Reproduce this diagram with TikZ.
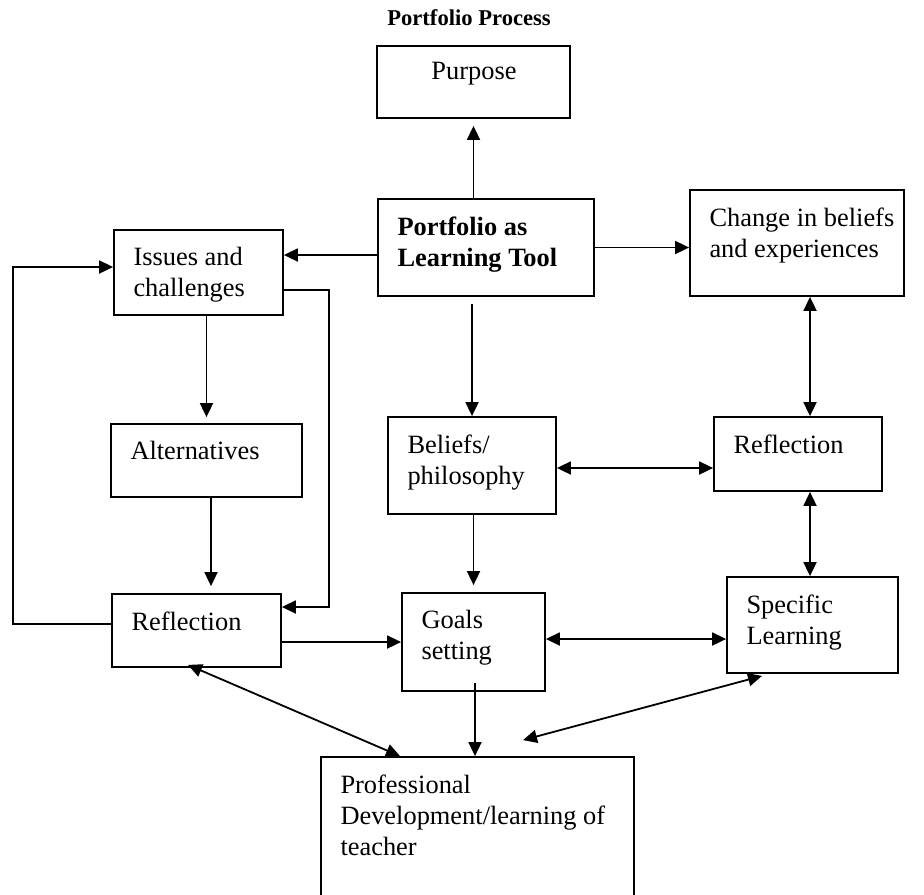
\documentclass[tikz,border=0pt]{standalone}
\usepackage{fontspec}
\setmainfont{Liberation Serif}
\usetikzlibrary{calc,arrows.meta}
\tikzset{
	box/.style={draw, line width=0.9pt, inner sep=0pt},
	txt/.style={anchor=north west, inner sep=0pt, align=left, font=\fontsize{13.2}{15.5}\selectfont},
	arr/.style={line width=0.9pt, -{Triangle[length=7pt,width=6.5pt]}},
	darr/.style={line width=0.9pt, {Triangle[length=7pt,width=6.5pt]}-{Triangle[length=7pt,width=6.5pt]}}
}
\def\boxlabel(#1)#2{\node[txt] (#1-t) at ($(#1.north west)+(20,18)$) {#2};}

\begin{document}
\begin{tikzpicture}[x=0.5pt, y=-0.5pt]
		\useasboundingbox (0,0) rectangle (924,894);
		\clip (0,0) rectangle (924,894);
		%%%%% BOXES %%%%%
		\node[font=\fontsize{11.3}{13}\selectfont\bfseries] (title) at (469,18) {Portfolio Process};
		
		\node[box, minimum width=96.5pt, minimum height=36pt] (purpose) at (473.5,82) {};
		\node[box, minimum width=108pt, minimum height=48.5pt] (plt) at (486,247.5) {};
		\node[box, minimum width=107pt, minimum height=53pt] (change) at (797,243) {};
		\node[box, minimum width=84.5pt, minimum height=42.5pt] (issues) at (198.5,272.5) {};
		\node[box, minimum width=95.5pt, minimum height=36.5pt] (alt) at (206.5,460.5) {};
		\node[box, minimum width=84pt, minimum height=48.5pt] (beliefs) at (472,465.5) {};
		\node[box, minimum width=84pt, minimum height=37pt] (refR) at (798,454) {};
		\node[box, minimum width=84.5pt, minimum height=36.5pt] (refL) at (196.5,630.5) {};
		\node[box, minimum width=71.5pt, minimum height=49pt] (goals) at (473.5,642) {};
		\node[box, minimum width=85.5pt, minimum height=48pt] (spec) at (812.5,625) {};
		\node[box, minimum width=156.5pt, minimum height=100pt] (prof) at (477.5,857) {};
		
		%%%%% TEXTS %%%%%
		\node[txt, anchor=north] (purpose-t) at ($(purpose.north)+(0.5,17)$) {Purpose};
		\node[txt, font=\fontsize{13.2}{15.5}\selectfont\bfseries] (plt-t) at ($(plt.north west)+(20,18)$) {Portfolio as\\Learning Tool};
		\boxlabel(change){Change in beliefs\\and experiences}
		\boxlabel(issues){Issues and\\challenges}
		\boxlabel(alt){Alternatives}
		\boxlabel(beliefs){Beliefs/\\philosophy}
		\boxlabel(refR){Reflection}
		\boxlabel(refL){Reflection}
		\boxlabel(goals){Goals\\setting}
		\boxlabel(spec){Specific\\Learning}
		\boxlabel(prof){Professional\\Development/learning of\\teacher}
		
		%%%%% ARROWS %%%%%
		\draw[arr, shorten >=3.5pt] (plt.north -| purpose.south) -- (purpose.south);
		\draw[arr] (plt.east) -- (plt.east -| change.west);
		\draw[arr] ($(plt.west)+(0,7.5)$) -- ($(plt.west -| issues.east)+(0,7.5)$);
		\draw[arr, shorten <=3.5pt] (plt.south -| beliefs.north) -- (beliefs.north);
		\draw[arr, shorten >=3pt] (alt.north |- issues.south) -- (alt.north);
		\draw[arr, shorten >=3.5pt] ($(alt.south)+(4.5,0)$) -- ($(refL.north -| alt.south)+(4.5,0)$);
		\draw[arr, shorten >=3.5pt] (goals.north |- beliefs.south) -- (goals.north);
		\draw[darr] ($(beliefs.east)+(0,2.5)$) -- ($(beliefs.east -| refR.west)+(0,2.5)$);
		\draw[darr] ($(change.south)+(13,0)$) -- ($(refR.north)+(12,0)$);
		\draw[darr] ($(refR.south)+(12,0)$) -- ($(spec.north)+(-2.5,0)$);
		\draw[arr] (goals.west -| refL.east) -- (goals.west);
		\draw[darr] ($(goals.east)+(0,-3)$) -- ($(goals.east -| spec.west)+(0,-3)$);
		\draw[arr] ($(goals.south)+(1.5,-9)$) -- ($(goals.south |- prof.north)+(1.5,0)$);
		
		% loops round the left reflection
		\draw[arr] ($(refL.west)+(0,-6.5)$) -- ++(-98,0) |- ($(issues.west)+(0,-5.5)$);
		\draw[arr] ($(issues.east)+(0,17.5)$) -- ++(45,0) |- ($(refL.east)+(0,-23.5)$);
		
		% to the development box
		\draw[darr] ($(refL.south)+(-8.5,-3)$) -- ($(prof.north)+(-77.5,0)$);
		\coordinate (free) at ($(prof.north)+(45.5,-16)$);
		\draw[darr] ($(spec.south)+(-50.5,2)$) -- (free);
		%%%%% END %%%%%
	\end{tikzpicture}
\end{document}
